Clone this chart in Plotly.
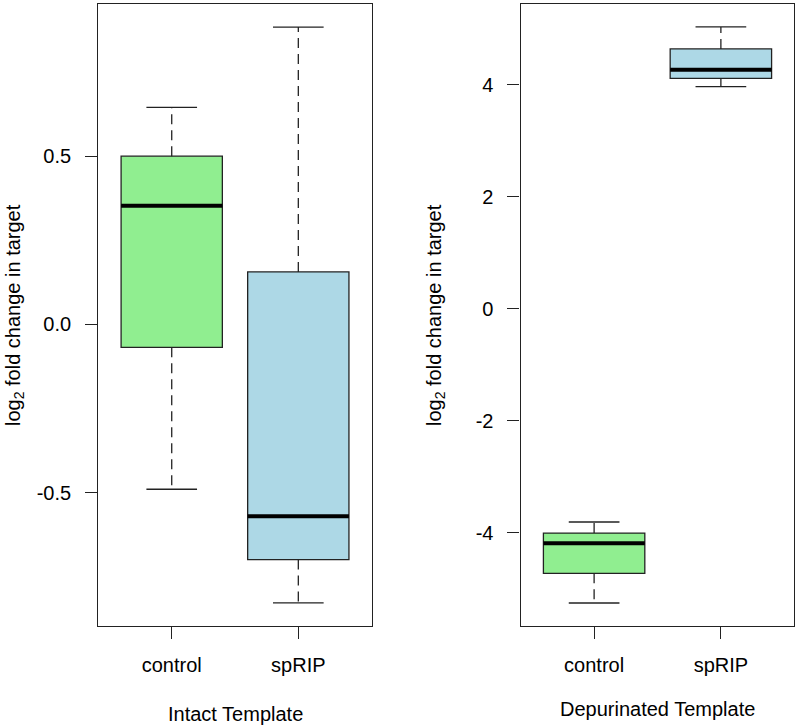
import plotly.graph_objects as go

# ---- data ----
categories = ["control", "spRIP"]
positions = [1, 2]

intact_lower = [-0.490, -0.828]
intact_q1 = [-0.068, -0.699]
intact_median = [0.353, -0.570]
intact_q3 = [0.500, 0.156]
intact_upper = [0.645, 0.884]

dep_lower = [-5.256, 3.964]
dep_q1 = [-4.726, 4.112]
dep_median = [-4.190, 4.268]
dep_q3 = [-4.007, 4.637]
dep_upper = [-3.810, 5.030]

intact_ticks = [-0.5, 0.0, 0.5]
intact_ticktext = ["-0.5", "0.0", "0.5"]
dep_ticks = [-4, -2, 0, 2, 4]
dep_ticktext = ["-4", "-2", "0", "2", "4"]

fill_colors = ["#90EE90", "#ADD8E6"]
edge = "#222222"
FONT = "Liberation Sans, Arial, sans-serif"
FS = 20

fig = go.Figure()


def add_panel(xa, ya, lower, q1, med, q3, upper):
    for i, pos in enumerate(positions):
        fig.add_trace(go.Box(
            x=[pos], q1=[q1[i]], median=[med[i]], q3=[q3[i]],
            lowerfence=[q1[i]], upperfence=[q3[i]],
            width=0.8, whiskerwidth=0, fillcolor=fill_colors[i],
            line=dict(color=edge, width=1.3), boxpoints=False,
            xaxis=xa, yaxis=ya, showlegend=False, hoverinfo="skip"))
        # dashed whiskers
        fig.add_trace(go.Scatter(
            x=[pos, pos, None, pos, pos],
            y=[q3[i], upper[i], None, q1[i], lower[i]],
            mode="lines", line=dict(color=edge, width=1.3, dash="10px,6px"),
            xaxis=xa, yaxis=ya, showlegend=False, hoverinfo="skip"))
        # whisker caps
        fig.add_trace(go.Scatter(
            x=[pos - 0.2, pos + 0.2, None, pos - 0.2, pos + 0.2],
            y=[upper[i], upper[i], None, lower[i], lower[i]],
            mode="lines", line=dict(color=edge, width=1.3),
            xaxis=xa, yaxis=ya, showlegend=False, hoverinfo="skip"))
        # thick median
        fig.add_trace(go.Scatter(
            x=[pos - 0.4, pos + 0.4], y=[med[i], med[i]],
            mode="lines", line=dict(color="black", width=4),
            xaxis=xa, yaxis=ya, showlegend=False, hoverinfo="skip"))


add_panel("x", "y", intact_lower, intact_q1, intact_median, intact_q3, intact_upper)
add_panel("x2", "y2", dep_lower, dep_q1, dep_median, dep_q3, dep_upper)

axis_common = dict(showline=True, mirror=True, linecolor=edge, linewidth=1.3,
                   ticks="outside", ticklen=12, tickcolor=edge, tickwidth=1.3,
                   showgrid=False, zeroline=False,
                   tickfont=dict(family=FONT, size=FS, color="black"))

fig.update_layout(
    width=796, height=728,
    margin=dict(l=0, r=0, t=0, b=0),
    paper_bgcolor="white", plot_bgcolor="white",
    xaxis=dict(domain=[0.1235, 0.467], range=[0.42, 2.58],
               tickvals=positions, ticktext=categories,
               ticklabelstandoff=9, anchor="y", **axis_common),
    yaxis=dict(domain=[0.1401, 0.9945], range=[-0.8965, 0.9525],
               tickvals=intact_ticks, ticktext=intact_ticktext,
               ticklabelstandoff=10, anchor="x", **axis_common),
    xaxis2=dict(domain=[0.654, 0.998], range=[0.42, 2.58],
                tickvals=positions, ticktext=categories,
                ticklabelstandoff=9, anchor="y2", **axis_common),
    yaxis2=dict(domain=[0.1401, 0.9945], range=[-5.667, 5.44],
                tickvals=dep_ticks, ticktext=dep_ticktext,
                ticklabelstandoff=10, anchor="x2", **axis_common),
    annotations=[
        dict(text="Intact Template", xref="x domain", yref="paper",
             x=0.5, y=(728 - 714) / 728, xanchor="center", yanchor="middle",
             showarrow=False, font=dict(family=FONT, size=FS, color="black")),
        dict(text="Depurinated Template", xref="x2 domain", yref="paper",
             x=0.5, y=(728 - 709) / 728, xanchor="center", yanchor="middle",
             showarrow=False, font=dict(family=FONT, size=FS, color="black")),
        dict(text="log<sub>2</sub> fold change in target", xref="paper", yref="paper",
             x=14 / 796, y=(728 - 315) / 728, xanchor="center", yanchor="middle",
             textangle=-90, showarrow=False,
             font=dict(family=FONT, size=FS, color="black")),
        dict(text="log<sub>2</sub> fold change in target", xref="paper", yref="paper",
             x=435 / 796, y=(728 - 315) / 728, xanchor="center", yanchor="middle",
             textangle=-90, showarrow=False,
             font=dict(family=FONT, size=FS, color="black")),
    ],
)

fig.write_html("out.html", config={"displayModeBar": False},
               post_script="document.body.style.margin='0';document.body.style.overflow='hidden';")
